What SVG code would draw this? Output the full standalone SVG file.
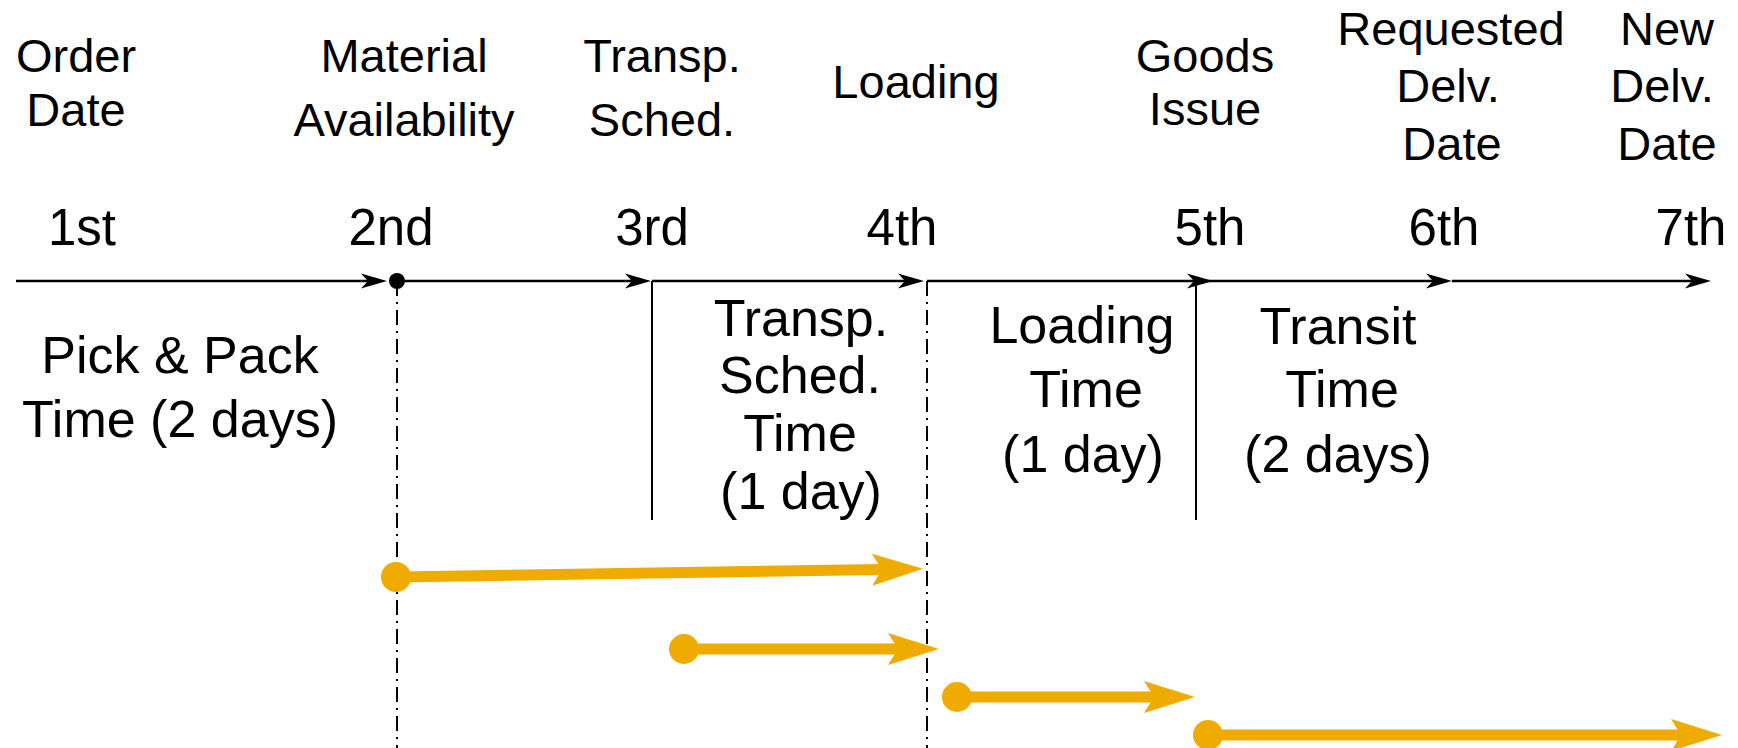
<svg xmlns="http://www.w3.org/2000/svg" width="1738" height="748" viewBox="0 0 1738 748">
  <style>
    text { font-family: "Liberation Sans", Arial, sans-serif; fill: #000; text-anchor: middle; }
    .event { font-size: 47px; }
    .day { font-size: 51px; }
    .span { font-size: 52px; }
    .axis { stroke: #000; stroke-width: 2.5; fill: none; marker-end: url(#axisHead); }
    .bound { stroke: #000; stroke-width: 2; fill: none; }
    .guide { stroke: #000; stroke-width: 2; fill: none; stroke-dasharray: 15 6 2 6; }
    .task { stroke: #F0AB00; stroke-width: 11; fill: none; marker-start: url(#taskStart); marker-end: url(#taskHead); }
  </style>
  <defs>
    <marker id="axisHead" markerUnits="userSpaceOnUse" viewBox="0 -9 28 18" refX="7" refY="0" markerWidth="28" markerHeight="18" orient="auto" overflow="visible">
      <path d="M0,-7.5 L26,0 L0,7.5 L7,0 z" fill="#000"/>
    </marker>
    <marker id="taskHead" markerUnits="userSpaceOnUse" viewBox="0 -17 52 34" refX="10" refY="0" markerWidth="52" markerHeight="34" orient="auto" overflow="visible">
      <path d="M0,-16 L51,0 L0,16 L10,0 z" fill="#F0AB00"/>
    </marker>
    <marker id="taskStart" markerUnits="userSpaceOnUse" viewBox="-16 -16 32 32" refX="0" refY="0" markerWidth="32" markerHeight="32" orient="auto" overflow="visible">
      <circle cx="0" cy="0" r="15" fill="#F0AB00"/>
    </marker>
  </defs>

  <rect width="1738" height="748" fill="#fff"/>

  <!-- event labels above the time axis -->
  <g id="evt-order"><text class="event" x="76" y="72">Order</text><text class="event" x="76" y="126">Date</text></g>
  <g id="evt-material"><text class="event" x="404" y="72">Material</text><text class="event" x="404" y="136">Availability</text></g>
  <g id="evt-transp"><text class="event" x="662" y="72">Transp.</text><text class="event" x="662" y="136">Sched.</text></g>
  <g id="evt-loading"><text class="event" x="916" y="98">Loading</text></g>
  <g id="evt-goods"><text class="event" x="1205" y="72">Goods</text><text class="event" x="1205" y="125">Issue</text></g>
  <g id="evt-requested"><text class="event" x="1451" y="45">Requested</text><text class="event" x="1448" y="102">Delv.</text><text class="event" x="1452" y="160">Date</text></g>
  <g id="evt-new"><text class="event" x="1667" y="45">New</text><text class="event" x="1662" y="102">Delv.</text><text class="event" x="1667" y="160">Date</text></g>

  <!-- day labels -->
  <g id="days">
    <text class="day" x="82" y="245">1st</text>
    <text class="day" x="391" y="245">2nd</text>
    <text class="day" x="652" y="245">3rd</text>
    <text class="day" x="902" y="245">4th</text>
    <text class="day" x="1210" y="245">5th</text>
    <text class="day" x="1444" y="245">6th</text>
    <text class="day" x="1691" y="245">7th</text>
  </g>

  <!-- duration labels below the axis -->
  <g id="dur-pickpack"><text class="span" x="180" y="373">Pick &amp; Pack</text><text class="span" x="180" y="437">Time (2 days)</text></g>
  <g id="dur-transp"><text class="span" x="801" y="336">Transp.</text><text class="span" x="800" y="393">Sched.</text><text class="span" x="800" y="451">Time</text><text class="span" x="801" y="509">(1 day)</text></g>
  <g id="dur-loading"><text class="span" x="1082" y="343">Loading</text><text class="span" x="1086" y="407">Time</text><text class="span" x="1083" y="472">(1 day)</text></g>
  <g id="dur-transit"><text class="span" x="1338" y="344">Transit</text><text class="span" x="1342" y="407">Time</text><text class="span" x="1338" y="472">(2 days)</text></g>

  <!-- time axis, boundaries and activity arrows -->
  <g id="connectors">
    <line class="guide" x1="397" y1="281" x2="397" y2="748"/>
    <line class="guide" x1="927" y1="281" x2="927" y2="748"/>
    <line class="bound" x1="652" y1="281" x2="652" y2="520"/>
    <line class="bound" x1="1196" y1="281" x2="1196" y2="520"/>

    <line class="axis" x1="16" y1="281" x2="368" y2="281"/>
    <line class="axis" x1="397" y1="281" x2="632" y2="281"/>
    <line class="axis" x1="652" y1="281" x2="905" y2="281"/>
    <line class="axis" x1="927" y1="281" x2="1194" y2="281"/>
    <line class="axis" x1="1196" y1="281" x2="1433" y2="281"/>
    <line class="axis" x1="1452" y1="281" x2="1692" y2="281"/>
    <circle cx="397" cy="281" r="8" fill="#000"/>

    <line class="task" x1="396" y1="577" x2="882" y2="569.5"/>
    <line class="task" x1="684" y1="649" x2="898" y2="649"/>
    <line class="task" x1="957" y1="697" x2="1154" y2="697"/>
    <line class="task" x1="1208" y1="735" x2="1681" y2="735"/>
  </g>
</svg>
